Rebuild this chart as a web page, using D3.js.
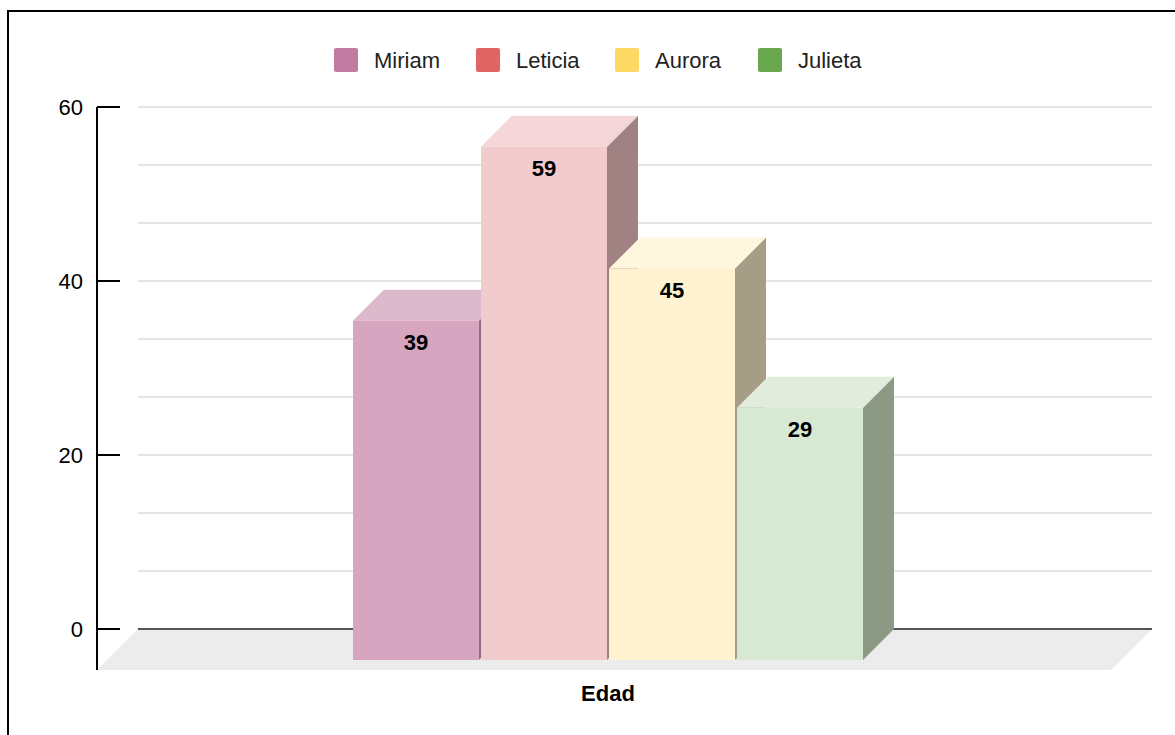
<!DOCTYPE html>
<html>
<head>
<meta charset="utf-8">
<script src="https://cdn.jsdelivr.net/npm/d3@7"></script>
<style>
  html, body { margin: 0; padding: 0; background: #fff; }
  svg { display: block; font-family: "Liberation Sans", Arial, sans-serif; }
</style>
</head>
<body>
<svg id="chart" width="1175" height="735"></svg>
<script>
// ---- data ----
const category = "Edad";
const seriesNames = ["Miriam", "Leticia", "Aurora", "Julieta"];
const seriesValues = [39, 59, 45, 29];
const legendColors = ["#c27ba0", "#e06666", "#ffd966", "#6aa84f"];
const frontColors = ["#d6a6c1", "#f2cbcc", "#fef2d0", "#d8e9d3"];
const topColors = ["#ddb9cc", "#f4d6d8", "#fef6dd", "#e1ecdc"];
const sideColors = ["#8f6e80", "#a08283", "#a59d85", "#8c9985"];
const yTicks = [0, 20, 40, 60];
const yMinor = [20/3, 40/3, 20, 80/3, 100/3, 40, 140/3, 160/3, 60];

// ---- layout ----
const svg = d3.select("#chart");
const W = 1175, H = 735;
const axisX = 97;
const floorDepth = 41;
const barDepth = 31;
const backLeft = axisX + floorDepth, backRight = 1152;

const y = d3.scaleLinear().domain([0, 60]).range([629, 107]);
const x = d3.scaleBand().domain(seriesNames).range([353, 863]).paddingInner(0.016);

// outer border
svg.append("rect").attr("x", 8).attr("y", 11).attr("width", W + 20).attr("height", H + 20)
  .attr("fill", "none").attr("stroke", "#000").attr("stroke-width", 2);

// floor
const y0 = y(0);
svg.append("polygon")
  .attr("points", [[backLeft, y0], [backRight, y0], [backRight - floorDepth, y0 + floorDepth], [axisX, y0 + floorDepth]].map(p => p.join(",")).join(" "))
  .attr("fill", "#ececec");

// gridlines
svg.append("g").selectAll("line").data(yMinor).join("line")
  .attr("x1", backLeft).attr("x2", backRight)
  .attr("y1", d => y(d)).attr("y2", d => y(d))
  .attr("stroke", "#dcdcdc").attr("stroke-width", 1.5);

// baseline
svg.append("line").attr("x1", backLeft).attr("x2", backRight)
  .attr("y1", y0).attr("y2", y0).attr("stroke", "#555").attr("stroke-width", 2);

// y axis
const yAxis = d3.axisLeft(y).tickValues(yTicks).tickSize(0).tickPadding(14);
const ag = svg.append("g").attr("transform", `translate(${axisX},0)`).call(yAxis);
ag.select(".domain").remove();
ag.selectAll("text").attr("font-size", 22).attr("fill", "#000")
  .attr("font-family", "'Liberation Sans', Arial, sans-serif");
svg.append("line").attr("x1", axisX).attr("x2", axisX).attr("y1", y(60)).attr("y2", y0 + floorDepth)
  .attr("stroke", "#000").attr("stroke-width", 2);
svg.append("g").selectAll("line").data(yTicks).join("line")
  .attr("x1", axisX).attr("x2", axisX + 23)
  .attr("y1", d => y(d)).attr("y2", d => y(d))
  .attr("stroke", "#000").attr("stroke-width", 2);

// bars (3D)
const bars = svg.append("g");
seriesNames.forEach((name, i) => {
  const v = seriesValues[i];
  const fx = x(name), bw = x.bandwidth();
  const fTop = y(v) + barDepth, fBot = y0 + barDepth;
  const g = bars.append("g");
  g.append("polygon")
    .attr("points", [[fx + bw, fTop], [fx + bw + barDepth, fTop - barDepth], [fx + bw + barDepth, fBot - barDepth], [fx + bw, fBot]].map(p => p.join(",")).join(" "))
    .attr("fill", sideColors[i]);
  g.append("polygon")
    .attr("points", [[fx, fTop], [fx + barDepth, fTop - barDepth], [fx + bw + barDepth, fTop - barDepth], [fx + bw, fTop]].map(p => p.join(",")).join(" "))
    .attr("fill", topColors[i]);
  g.append("rect").attr("x", fx).attr("y", fTop).attr("width", bw).attr("height", fBot - fTop)
    .attr("fill", frontColors[i]);
  g.append("text").attr("x", fx + bw / 2).attr("y", fTop + 29)
    .attr("text-anchor", "middle").attr("font-size", 22).attr("font-weight", "bold")
    .attr("fill", "#000").text(v);
});

// x label
svg.append("text").attr("x", 608).attr("y", 701).attr("text-anchor", "middle")
  .attr("font-size", 22).attr("font-weight", "bold").attr("fill", "#000").text(category);

// legend
const legendX = [334, 476, 615, 758];
const lg = svg.append("g");
seriesNames.forEach((name, i) => {
  lg.append("rect").attr("x", legendX[i]).attr("y", 48).attr("width", 24).attr("height", 24)
    .attr("rx", 2).attr("fill", legendColors[i]);
  lg.append("text").attr("x", legendX[i] + 40).attr("y", 68)
    .attr("font-size", 22).attr("fill", "#222").text(name);
});
</script>
</body>
</html>
